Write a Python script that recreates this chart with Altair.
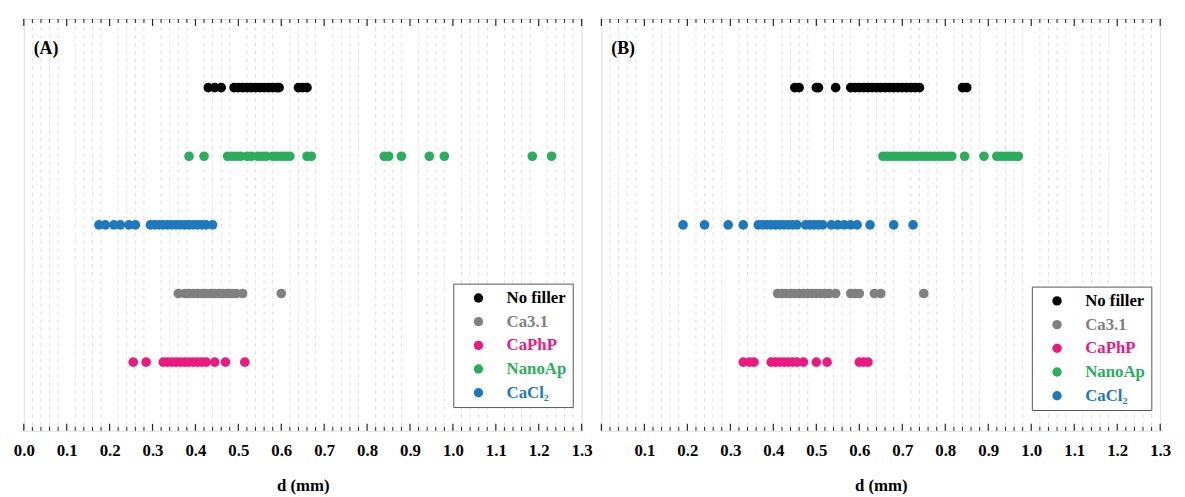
import altair as alt
import pandas as pd

# ---------------- data (d in mm) ----------------
series_order = ["No filler", "Ca3.1", "CaPhP", "NanoAp", "CaCl₂"]
series_colors = ["#000000", "#808080", "#EC1A80", "#2AAE5E", "#1C79BD"]
series_rows = {"No filler": 5, "NanoAp": 4, "CaCl₂": 3, "Ca3.1": 2, "CaPhP": 1}

a_no_filler = [0.43, 0.445, 0.46, 0.49, 0.50, 0.51, 0.52, 0.53, 0.54, 0.55, 0.56, 0.57, 0.58, 0.59, 0.595, 0.64, 0.65, 0.66]
a_nanoap = [0.385, 0.42, 0.475, 0.485, 0.495, 0.505, 0.52, 0.53, 0.545, 0.555, 0.565, 0.58, 0.59, 0.60, 0.61, 0.62, 0.66, 0.67, 0.84, 0.85, 0.88, 0.945, 0.98, 1.185, 1.23]
a_cacl2 = [0.175, 0.19, 0.21, 0.225, 0.245, 0.26, 0.295, 0.305, 0.315, 0.325, 0.335, 0.345, 0.355, 0.365, 0.375, 0.385, 0.395, 0.405, 0.415, 0.425, 0.44]
a_ca31 = [0.36, 0.375, 0.385, 0.395, 0.405, 0.415, 0.425, 0.435, 0.445, 0.455, 0.465, 0.475, 0.485, 0.495, 0.51, 0.60]
a_caphp = [0.255, 0.285, 0.325, 0.335, 0.345, 0.355, 0.365, 0.375, 0.385, 0.395, 0.405, 0.415, 0.425, 0.445, 0.47, 0.515]

b_no_filler = [0.45, 0.46, 0.50, 0.505, 0.545, 0.58, 0.59, 0.60, 0.61, 0.62, 0.63, 0.64, 0.65, 0.66, 0.67, 0.68, 0.69, 0.70, 0.71, 0.72, 0.73, 0.74, 0.84, 0.85]
b_nanoap = [0.655, 0.665, 0.675, 0.685, 0.695, 0.705, 0.715, 0.725, 0.735, 0.745, 0.755, 0.765, 0.775, 0.785, 0.795, 0.805, 0.815, 0.845, 0.89, 0.92, 0.93, 0.94, 0.95, 0.96, 0.97]
b_cacl2 = [0.19, 0.24, 0.295, 0.33, 0.365, 0.375, 0.385, 0.395, 0.405, 0.415, 0.425, 0.435, 0.445, 0.455, 0.475, 0.485, 0.495, 0.505, 0.515, 0.535, 0.55, 0.565, 0.58, 0.595, 0.625, 0.68, 0.725]
b_ca31 = [0.41, 0.42, 0.43, 0.44, 0.45, 0.46, 0.47, 0.48, 0.49, 0.50, 0.51, 0.52, 0.53, 0.545, 0.58, 0.59, 0.60, 0.635, 0.65, 0.75]
b_caphp = [0.33, 0.345, 0.355, 0.395, 0.405, 0.415, 0.425, 0.435, 0.445, 0.455, 0.47, 0.50, 0.525, 0.60, 0.61, 0.62]

major_ticks = [0.0, 0.1, 0.2, 0.3, 0.4, 0.5, 0.6, 0.7, 0.8, 0.9, 1.0, 1.1, 1.2, 1.3]
a_tick_labels = major_ticks
b_tick_labels = major_ticks[1:]
minor_ticks = [round(i * 0.02, 2) for i in range(66) if i % 5 != 0]

# ---------------- layout ----------------
H = 417
W_A = 565
W_B = 566
FONT = "Liberation Serif"


def make_df(groups):
    rows = []
    for name, vals in groups:
        for v in vals:
            rows.append({"series": name, "d": v, "row": series_rows[name]})
    return pd.DataFrame(rows)


label_expr = (
    "datum.value == 'No filler' ? '#000000' : "
    "datum.value == 'Ca3.1' ? '#808080' : "
    "datum.value == 'CaPhP' ? '#EC1A80' : "
    "datum.value == 'NanoAp' ? '#2AAE5E' : '#1C79BD'"
)


def panel(df, tag, tick_labels, width, lx, ly):
    xs = alt.Scale(domain=[0, 1.3], nice=False, zero=False)
    ys = alt.Scale(domain=[0, 6], nice=False, zero=False)
    xaxis = alt.Axis(
        values=tick_labels, format=".1f", title="d (mm)", grid=False, ticks=False,
        domain=False, labelFont=FONT, labelFontSize=17, labelFontWeight="bold",
        labelColor="#000", labelPadding=12, labelFlush=False, labelOverlap=False,
        titleFont=FONT, titleFontSize=17, titleFontWeight="bold", titleColor="#000",
        titlePadding=20,
    )
    X = lambda f: alt.X(f, scale=xs, axis=xaxis)

    minor_df = pd.DataFrame({"v": minor_ticks})
    major_df = pd.DataFrame({"v": major_ticks})

    grid = alt.Chart(minor_df).mark_rule(color="#e0e0e0", strokeDash=[4, 4], strokeWidth=1).encode(
        x=X("v:Q"), y=alt.value(0), y2=alt.value(H))
    minor_bot = alt.Chart(minor_df).mark_rule(color="#222", strokeWidth=1).encode(
        x=X("v:Q"), y=alt.value(H), y2=alt.value(H - 4))
    minor_top = alt.Chart(minor_df).mark_rule(color="#222", strokeWidth=1).encode(
        x=X("v:Q"), y=alt.value(0), y2=alt.value(4))
    major_bot = alt.Chart(major_df).mark_rule(color="#222", strokeWidth=1.2).encode(
        x=X("v:Q"), y=alt.value(H), y2=alt.value(H - 7))
    major_top = alt.Chart(major_df).mark_rule(color="#222", strokeWidth=1.2).encode(
        x=X("v:Q"), y=alt.value(0), y2=alt.value(7))

    pts = alt.Chart(df).mark_circle(size=95, opacity=1).encode(
        x=X("d:Q"),
        y=alt.Y("row:Q", scale=ys, axis=None),
        color=alt.Color(
            "series:N",
            scale=alt.Scale(domain=series_order, range=series_colors),
            legend=alt.Legend(
                title=None, orient="none", legendX=lx, legendY=ly,
                fillColor="white", strokeColor="#555", padding=6,
                symbolType="circle", symbolSize=90, symbolOffset=11,
                symbolStrokeWidth=0, symbolOpacity=1,
                labelOffset=20, labelFont=FONT, labelFontSize=17,
                labelFontWeight="bold", labelColor=alt.ExprRef(label_expr),
                rowPadding=6, labelLimit=200,
            ),
        ),
    )

    tag_layer = alt.Chart(pd.DataFrame({"t": [tag]})).mark_text(
        align="left", baseline="middle", font=FONT, fontSize=18, fontWeight="bold", color="#000"
    ).encode(text="t:N", x=alt.value(10), y=alt.value(30))

    return alt.layer(grid, minor_bot, minor_top, major_bot, major_top, pts, tag_layer).properties(
        width=width, height=H)


df_a = make_df([("No filler", a_no_filler), ("NanoAp", a_nanoap), ("CaCl₂", a_cacl2),
                ("Ca3.1", a_ca31), ("CaPhP", a_caphp)])
df_b = make_df([("No filler", b_no_filler), ("NanoAp", b_nanoap), ("CaCl₂", b_cacl2),
                ("Ca3.1", b_ca31), ("CaPhP", b_caphp)])

pa = panel(df_a, "(A)", a_tick_labels, W_A, 435, 268)
pb = panel(df_b, "(B)", b_tick_labels, W_B, 436, 271)

chart = alt.hconcat(pa, pb, spacing=6).resolve_scale(color="independent").resolve_legend(
    color="independent"
).properties(
    padding={"left": 4, "top": 6, "right": 5, "bottom": 5}
).configure_view(
    stroke="#222", strokeWidth=1.5
).configure(background="white")

chart.save("out.html", embed_options={"renderer": "svg", "actions": False})
